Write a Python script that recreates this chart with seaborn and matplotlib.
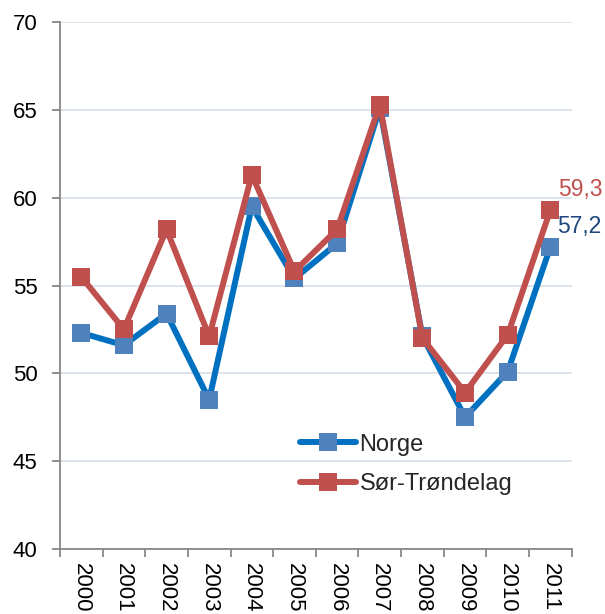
import matplotlib
matplotlib.use("Agg")
import matplotlib.pyplot as plt
import seaborn as sns
import pandas as pd
from matplotlib.ticker import FixedLocator, MultipleLocator

years = ["2000", "2001", "2002", "2003", "2004", "2005",
         "2006", "2007", "2008", "2009", "2010", "2011"]
norge = [52.3, 51.6, 53.4, 48.5, 59.5, 55.4, 57.4, 65.1, 52.1, 47.5, 50.1, 57.2]
sor_trondelag = [55.5, 52.5, 58.2, 52.1, 61.3, 55.8, 58.2, 65.3, 52.0, 48.9, 52.2, 59.3]
series_names = ["Norge", "Sør-Trøndelag"]

line_colors = {"Norge": "#0070C0", "Sør-Trøndelag": "#C0504D"}
marker_colors = {"Norge": "#4F81BD", "Sør-Trøndelag": "#C0504D"}
label_colors = {"Norge": "#1F497D", "Sør-Trøndelag": "#C0504D"}

df = pd.DataFrame({
    "År": years * 2,
    "Verdi": norge + sor_trondelag,
    "Serie": [series_names[0]] * len(years) + [series_names[1]] * len(years),
})

sns.set_theme(style="white")
plt.rcParams["font.family"] = ["Liberation Sans", "DejaVu Sans"]

fig = plt.figure(figsize=(6.05, 6.14), dpi=100)
ax = fig.add_axes([0.099, 0.106, 0.846, 0.858])

sns.lineplot(data=df, x="År", y="Verdi", hue="Serie", style="Serie",
             markers={"Norge": "s", "Sør-Trøndelag": "s"},
             dashes=False, palette=line_colors, linewidth=4.3,
             markersize=13, ax=ax, sort=False, legend=False)

for line, name in zip(ax.lines, series_names):
    line.set_markerfacecolor(marker_colors[name])
    line.set_markeredgecolor(marker_colors[name])
    line.set_markeredgewidth(0)
    line.set_label(name)

ax.set_xlim(-0.5, len(years) - 0.5)
ax.set_ylim(40, 70)
ax.yaxis.set_major_locator(MultipleLocator(5))
ax.grid(axis="y", color="#D9E1EC", linewidth=1.3)
ax.grid(axis="x", visible=False)
ax.set_axisbelow(True)

ax.set_xticks(range(len(years)))
ax.set_xticklabels(years, rotation=270, fontsize=16, color="black")
ax.xaxis.set_minor_locator(FixedLocator([i - 0.5 for i in range(len(years) + 1)]))
ax.tick_params(axis="x", which="major", length=0, pad=10)
ax.tick_params(axis="x", which="minor", length=6, width=1.3, color="#878787", direction="out")
ax.tick_params(axis="y", which="major", length=6, width=1.3, color="#878787",
               direction="out", labelsize=16, labelcolor="black", pad=10)
ax.tick_params(bottom=True, left=True, which="both")

for side in ["top", "right"]:
    ax.spines[side].set_visible(False)
for side in ["left", "bottom"]:
    ax.spines[side].set_color("#878787")
    ax.spines[side].set_linewidth(1.3)

ax.set_xlabel("")
ax.set_ylabel("")

# value labels for the last year
last = len(years) - 1
ax.annotate(f"{sor_trondelag[-1]:.1f}".replace(".", ","), xy=(last, sor_trondelag[-1]),
            xytext=(5.5, 15), textcoords="offset points", fontsize=16.5,
            color=label_colors["Sør-Trøndelag"], ha="left", va="center")
ax.annotate(f"{norge[-1]:.1f}".replace(".", ","), xy=(last, norge[-1]),
            xytext=(5, 15), textcoords="offset points", fontsize=16.5,
            color=label_colors["Norge"], ha="left", va="center")

leg = ax.legend(loc="upper left", bbox_to_anchor=(0.450, 0.237), frameon=False,
                fontsize=17, handlelength=2.4, handletextpad=0.13, labelspacing=0.74,
                borderaxespad=0)

fig.savefig("out.png", dpi=100)
